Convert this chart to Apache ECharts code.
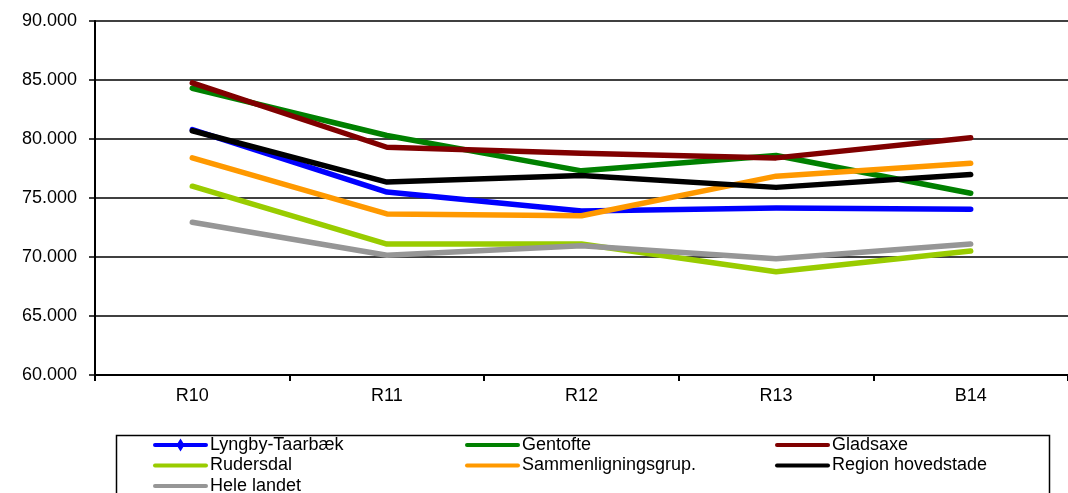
<!DOCTYPE html>
<html>
<head>
<meta charset="utf-8">
<script src="https://cdn.jsdelivr.net/npm/echarts@6/dist/echarts.min.js"></script>
<style>html,body{margin:0;padding:0;background:#fff}#c{width:1068px;height:493px}</style>
</head>
<body>
<div id="c"></div>
<script>
const categories = ['R10', 'R11', 'R12', 'R13', 'B14'];
const yTicks = { min: 60, max: 90, interval: 5 };
const lyngby = [80.8, 75.5, 73.9, 74.15, 74.05];
const gentofte = [84.3, 80.3, 77.3, 78.6, 75.4];
const gladsaxe = [84.75, 79.3, 78.8, 78.4, 80.1];
const rudersdal = [76.0, 71.1, 71.1, 68.75, 70.5];
const sammen = [78.4, 73.65, 73.5, 76.85, 77.95];
const region = [80.7, 76.35, 76.9, 75.9, 77.0];
const hele = [72.95, 70.15, 70.95, 69.85, 71.1];

const names = ['Lyngby-Taarbæk', 'Gentofte', 'Gladsaxe', 'Rudersdal', 'Sammenligningsgrup.', 'Region hovedstade', 'Hele landet'];
const colors = ['#0000FF', '#008000', '#800000', '#99CC00', '#FF9900', '#000000', '#969696'];
const values = [lyngby, gentofte, gladsaxe, rudersdal, sammen, region, hele];

const chart = echarts.init(document.getElementById('c'), null, { renderer: 'canvas' });
const font = 'Liberation Sans, Arial, sans-serif';

const series = names.map((n, i) => ({
  name: n,
  type: 'line',
  data: values[i],
  color: colors[i],
  symbol: 'none',
  showSymbol: false,
  lineStyle: { width: 5.5, color: colors[i], cap: 'round', join: 'round' },
  itemStyle: { color: colors[i] },
  emphasis: { disabled: true },
  animation: false
}));

const lineIcon = 'path://M2,4.5 L53,4.5 A2,2 0 0 1 53,8.5 L2,8.5 A2,2 0 0 1 2,4.5 Z';
const diamondIcon = 'path://M2,4.5 L53,4.5 A2,2 0 0 1 53,8.5 L2,8.5 A2,2 0 0 1 2,4.5 Z M27.5,0 L31.5,6.5 L27.5,13 L23.5,6.5 Z';

// legend positions: [series index, left, row]
const legendPos = [[0, 153, 0], [1, 465, 0], [2, 775, 0], [3, 153, 1], [4, 465, 1], [5, 775, 1], [6, 153, 2]];
const legends = legendPos.map(([i, left, row]) => ({
  data: [{ name: names[i], icon: i === 0 ? diamondIcon : lineIcon }],
  orient: 'horizontal',
  left: left,
  top: 436 + row * 20.5,
  itemWidth: 55,
  itemHeight: 13,
  itemGap: 0,
  padding: 0,
  textStyle: { fontFamily: font, fontSize: 18, color: '#000', padding: [0, 0, 0, -3] },
  selectedMode: false
}));

chart.setOption({
  animation: false,
  grid: { left: 95, right: 0, top: 21, bottom: 118, containLabel: false },
  xAxis: {
    type: 'category',
    data: categories,
    boundaryGap: true,
    axisLine: { lineStyle: { color: '#000', width: 2 } },
    axisTick: { show: true, length: 6, lineStyle: { color: '#000', width: 2 } },
    axisLabel: { fontFamily: font, fontSize: 18, color: '#000', margin: 12 },
    splitLine: { show: false }
  },
  yAxis: {
    type: 'value',
    min: yTicks.min,
    max: yTicks.max,
    interval: yTicks.interval,
    axisLine: { show: true, lineStyle: { color: '#000', width: 2 } },
    axisTick: { show: true, length: 6, lineStyle: { color: '#000', width: 1.5 } },
    axisLabel: { fontFamily: font, fontSize: 18, color: '#000', margin: 18, formatter: v => v.toFixed(3) },
    splitLine: { show: true, lineStyle: { color: '#000', width: 1.5 } }
  },
  legend: legends,
  graphic: [{
    type: 'rect',
    shape: { x: 116.5, y: 435.5, width: 933, height: 80 },
    style: { fill: 'none', stroke: '#000', lineWidth: 1.5 },
    silent: true
  }],
  series: series
});
</script>
</body>
</html>
